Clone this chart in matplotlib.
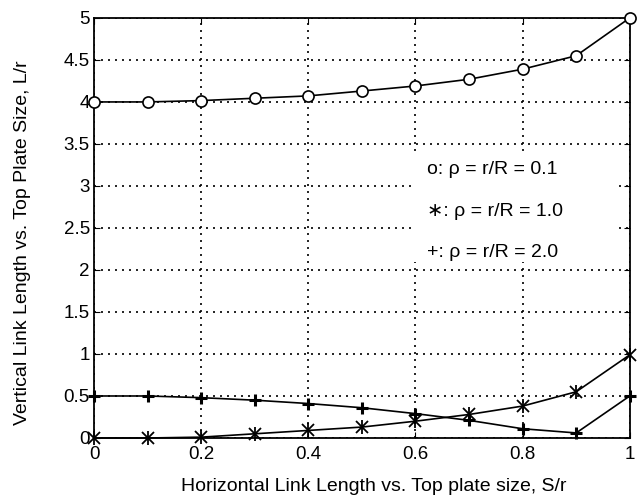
import numpy as np
import matplotlib.pyplot as plt
from matplotlib.patches import Rectangle

plt.rcParams['font.family'] = ['Liberation Sans', 'DejaVu Sans']

s_r = [0, 0.1, 0.2, 0.3, 0.4, 0.5, 0.6, 0.7, 0.8, 0.9, 1.0]
L_rho01 = [4.00, 4.00, 4.016, 4.044, 4.072, 4.13, 4.19, 4.27, 4.39, 4.55, 5.0]
L_rho10 = [0.0, 0.0, 0.01, 0.05, 0.09, 0.13, 0.20, 0.28, 0.38, 0.55, 0.99]
L_rho20 = [0.5, 0.5, 0.48, 0.45, 0.41, 0.36, 0.29, 0.21, 0.11, 0.06, 0.5]

labels = ['o: \u03c1 = r/R = 0.1', '\u2217: \u03c1 = r/R = 1.0', '+: \u03c1 = r/R = 2.0']
label_y = [3.19, 2.69, 2.21]

fig = plt.figure(figsize=(6.4, 4.98), dpi=100)
ax = fig.add_axes([0.147, 0.1205, 0.837, 0.8435])

ax.plot(s_r, L_rho01, 'k-', marker='o', markerfacecolor='white', markersize=8,
        markeredgewidth=1.2, linewidth=1.2, clip_on=False, zorder=4)
ax.plot(s_r, L_rho10, 'k-', marker='x', markersize=9, markeredgewidth=1.3,
        linewidth=1.2, clip_on=False, zorder=4)
ax.plot(s_r, L_rho10, 'k', marker='|', linestyle='none', markersize=10,
        markeredgewidth=1.3, clip_on=False, zorder=4)
ax.plot(s_r, L_rho20, 'k-', marker='+', markersize=9, markeredgewidth=2.2,
        linewidth=1.2, clip_on=False, zorder=4)

# white patch behind the annotation, hides the grid there
ax.add_patch(Rectangle((0.593, 2.1), 0.379, 1.3, facecolor='white',
                       edgecolor='none', zorder=2))
for txt, yy in zip(labels, label_y):
    ax.text(0.622, yy, txt, fontsize=14, va='center', ha='left', zorder=3)

ax.set_xlim(0, 1)
ax.set_ylim(0, 5)
ax.set_xticks(np.arange(0, 1.01, 0.2))
ax.set_xticklabels(['0', '0.2', '0.4', '0.6', '0.8', '1'])
ax.set_yticks(np.arange(0, 5.01, 0.5))
ax.set_yticklabels(['0', '0.5', '1', '1.5', '2', '2.5', '3', '3.5', '4', '4.5', '5'])
ax.grid(True, color='k', linestyle=(0, (1.2, 3)), linewidth=1.2)
ax.tick_params(direction='in', top=True, right=True, labelsize=13.5, length=4)
ax.tick_params(axis='x', pad=6)
ax.tick_params(axis='y', pad=3)
for sp in ax.spines.values():
    sp.set_linewidth(1.3)

ax.set_xlabel('Horizontal Link Length vs. Top plate size, S/r', fontsize=14)
ax.xaxis.set_label_coords(0.522, -0.095)
ax.xaxis.label.set_va('top')
ax.set_ylabel('Vertical Link Length vs. Top Plate Size, L/r', fontsize=14)
ax.yaxis.set_label_coords(-0.118, 0.464)

plt.savefig('out.png', dpi=100)
